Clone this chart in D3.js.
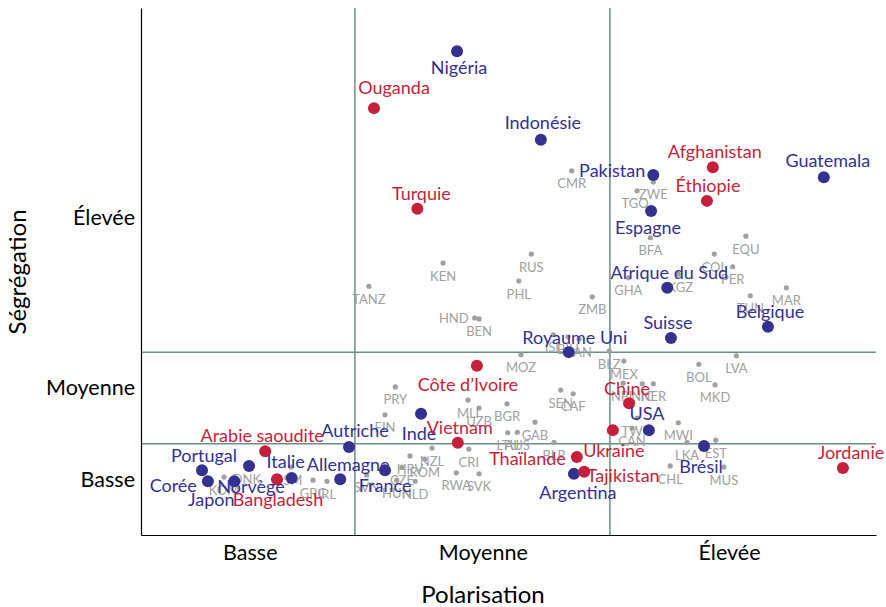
<!DOCTYPE html>
<html><head><meta charset="utf-8">
<script src="https://cdn.jsdelivr.net/npm/d3@7"></script>
<style>
html,body{margin:0;padding:0;background:#fff;}
svg{display:block;font-family:Lato,"Noto Sans",sans-serif;}
</style></head>
<body>
<script>
// ---- data (abstract units 0..10) ----
const xTickValues = [1.48, 4.65, 8.0];
const xTickLabels = ["Basse", "Moyenne", "Élevée"];
const yTickValues = [1.06, 2.79, 6.02];
const yTickLabels = ["Basse", "Moyenne", "Élevée"];
const xThresholds = [2.91, 6.38];
const yThresholds = [1.73, 3.47];

const blueNames = ["Nigéria","Indonésie","Pakistan","Guatemala","Espagne","Afrique du Sud","Belgique","Suisse","Royaume Uni","Inde","Autriche","USA","Brésil","Allemagne","France","Italie","Portugal","Corée","Japon","Norvège","Argentina"];
const blueX = [4.30,5.44,6.97,9.29,6.94,7.16,8.53,7.21,5.82,3.81,2.83,6.91,7.66,2.71,3.32,2.05,0.83,0.91,1.27,1.47,5.89];
const blueY = [9.18,7.50,6.83,6.79,6.15,4.69,3.95,3.74,3.47,2.30,1.67,1.99,1.69,1.06,1.23,1.08,1.23,1.02,1.02,1.31,1.16];

const redNames = ["Ouganda","Turquie","Afghanistan","Éthiopie","Côte d’Ivoire","Chine","Vietnam","Ukraine","Thaïlande","Tajikistan","Arabie saoudite","Bangladesh","Jordanie"];
const redX = [3.17,3.76,7.78,7.70,4.57,6.64,4.31,6.42,5.93,6.03,1.69,1.85,9.55];
const redY = [8.10,6.19,6.98,6.34,3.21,2.50,1.75,1.99,1.48,1.20,1.59,1.06,1.27];

const grayNames = ["TANZ","KEN","RUS","PHL","HND","BEN","ZMB","MOZ","ISL","BIH","PAN","BLZ","MEX","BOL","LVA","MKD","NPL","NIC","NER","TWN","CAN","MWI","LKA","EST","CHL","MUS","CMR","TGO","ZWE","BFA","COL","EQU","PER","GHA","KGZ","MAR","TUN","PRY","FIN","MLI","UZB","BGR","SEN","CAF","GAB","LTU","AUS","BLR","NZL","CRI","RWA","SVK","HRV","ROM","CZE","SVN","HUN","NLD","DNK","ISM","GRC","IRL","KOM"];
const grayX = [3.10,4.11,5.31,5.14,4.54,4.60,6.14,5.17,5.61,5.81,5.96,6.37,6.57,7.59,8.10,7.81,6.56,6.82,6.97,6.75,6.68,7.31,7.43,7.82,7.20,7.93,5.86,6.75,6.97,6.93,7.80,8.23,8.05,6.63,7.31,8.78,8.29,3.46,3.32,4.45,4.60,4.98,5.71,5.88,5.36,4.99,5.12,5.62,3.96,4.46,4.29,4.60,3.66,3.86,3.55,3.07,3.48,3.73,1.44,2.04,2.34,2.53,1.13];
const grayY = [4.72,5.16,5.33,4.82,4.12,4.10,4.52,3.42,3.80,3.76,3.72,3.49,3.30,3.24,3.40,2.85,2.88,2.87,2.87,2.22,2.03,2.13,1.76,1.80,1.31,1.29,6.91,6.53,6.70,5.64,5.33,5.67,5.09,4.88,4.95,4.69,4.54,2.81,2.28,2.56,2.41,2.49,2.75,2.68,2.14,1.94,1.95,1.76,1.65,1.63,1.18,1.16,1.50,1.44,1.29,1.14,1.04,1.02,1.31,1.29,1.04,1.02,1.10];

// ---- layout (label offsets in px, not data) ----
const labelOffsets = {
  "Nigéria":[2,16,"middle"],"Indonésie":[2,-17,"middle"],"Pakistan":[-8,-4,"end"],"Guatemala":[4,-16,"middle"],
  "Espagne":[-3,17,"middle"],"Afrique du Sud":[2,-15,"middle"],"Belgique":[2,-15,"middle"],"Suisse":[-3,-15,"middle"],
  "Royaume Uni":[6,-14,"middle"],"Inde":[-2,20,"middle"],"Autriche":[6,-16,"middle"],"USA":[-2,-16,"middle"],
  "Brésil":[-3,21,"middle"],"Allemagne":[8,-14,"middle"],"France":[0,16,"middle"],"Italie":[-6,-16,"middle"],
  "Portugal":[2,-14,"middle"],"Corée":[-11,4,"end"],"Japon":[-23,18,"middle"],"Norvège":[2,21,"middle"],
  "Argentina":[4,19,"middle"],"Ouganda":[20,-20,"middle"],"Turquie":[4,-15,"middle"],"Afghanistan":[2,-15,"middle"],
  "Éthiopie":[1,-15,"middle"],"Côte d’Ivoire":[-9,19,"middle"],"Chine":[-2,-15,"middle"],"Vietnam":[2,-15,"middle"],
  "Ukraine":[1,21,"middle"],"Thaïlande":[-11,2,"end"],"Tajikistan":[39,4,"middle"],"Arabie saoudite":[-3,-16,"middle"],
  "Bangladesh":[1,21,"middle"],"Jordanie":[8,-15,"middle"]
};
const grayOffsets = {"HND":[-6,1,"end"],"TGO":[-2,13,"middle"],"KGZ":[2,13,"middle"]};

const W = 886, H = 607;
const mLeft = 141, mRight = 876, mTop = 8, mBottom = 535;
const x = d3.scaleLinear().domain([0,10]).range([mLeft,mRight]);
const y = d3.scaleLinear().domain([0,10]).range([mBottom,mTop]);

const svg = d3.select("body").append("svg").attr("width",W).attr("height",H);

const refColor = "#6b8f84";
svg.selectAll("line.vref").data(xThresholds).join("line")
  .attr("x1",d=>x(d)).attr("x2",d=>x(d)).attr("y1",mTop).attr("y2",mBottom)
  .attr("stroke",refColor).attr("stroke-width",1.5);
svg.selectAll("line.href").data(yThresholds).join("line")
  .attr("x1",mLeft).attr("x2",mRight).attr("y1",d=>y(d)).attr("y2",d=>y(d))
  .attr("stroke",refColor).attr("stroke-width",1.5);

// axes
const xAxis = d3.axisBottom(x).tickValues(xTickValues).tickFormat((d,i)=>xTickLabels[i]).tickSize(0).tickPadding(13);
const yAxis = d3.axisLeft(y).tickValues(yTickValues).tickFormat((d,i)=>yTickLabels[i]).tickSize(0).tickPadding(6);
const gx = svg.append("g").attr("transform",`translate(0,${mBottom})`).call(xAxis);
const gy = svg.append("g").attr("transform",`translate(${mLeft},0)`).call(yAxis);
[gx,gy].forEach(g=>{
  g.select(".domain").attr("stroke","#000").attr("stroke-width",1.2);
  g.selectAll("text").attr("fill","#000").style("font-size","21.5px").style("font-family","Lato, 'Noto Sans', sans-serif");
});
gx.selectAll("text").attr("dy","0.55em");

svg.append("text").attr("x",483).attr("y",603).attr("text-anchor","middle")
  .style("font-size","24px").text("Polarisation");
svg.append("text").attr("transform",`translate(26,272)rotate(-90)`).attr("text-anchor","middle")
  .style("font-size","24px").text("Ségrégation");

// gray points
const gray = grayNames.map((n,i)=>({n,x:grayX[i],y:grayY[i]}));
const grayCol = "#a0a0a0";
svg.append("g").selectAll("circle").data(gray).join("circle")
  .attr("cx",d=>x(d.x)).attr("cy",d=>y(d.y)).attr("r",2.6).attr("fill",grayCol);
svg.append("g").selectAll("text").data(gray).join("text")
  .attr("x",d=>x(d.x)+((grayOffsets[d.n]||[0,13])[0]))
  .attr("y",d=>y(d.y)+((grayOffsets[d.n]||[0,13])[1]))
  .attr("dy","0.35em")
  .attr("text-anchor",d=>(grayOffsets[d.n]||[0,13,"middle"])[2])
  .attr("fill",grayCol).style("font-size","13px").text(d=>d.n);

// main points
const blue = "#34318f", red = "#c41f3b";
const main = blueNames.map((n,i)=>({n,x:blueX[i],y:blueY[i],c:blue}))
  .concat(redNames.map((n,i)=>({n,x:redX[i],y:redY[i],c:red})));
svg.append("g").selectAll("circle").data(main).join("circle")
  .attr("cx",d=>x(d.x)).attr("cy",d=>y(d.y)).attr("r",6).attr("fill",d=>d.c);
svg.append("g").selectAll("text").data(main).join("text")
  .attr("x",d=>x(d.x)+labelOffsets[d.n][0])
  .attr("y",d=>y(d.y)+labelOffsets[d.n][1])
  .attr("dy","0.35em")
  .attr("text-anchor",d=>labelOffsets[d.n][2])
  .attr("fill",d=>d.c).style("font-size","18px").text(d=>d.n);
</script>
</body></html>
